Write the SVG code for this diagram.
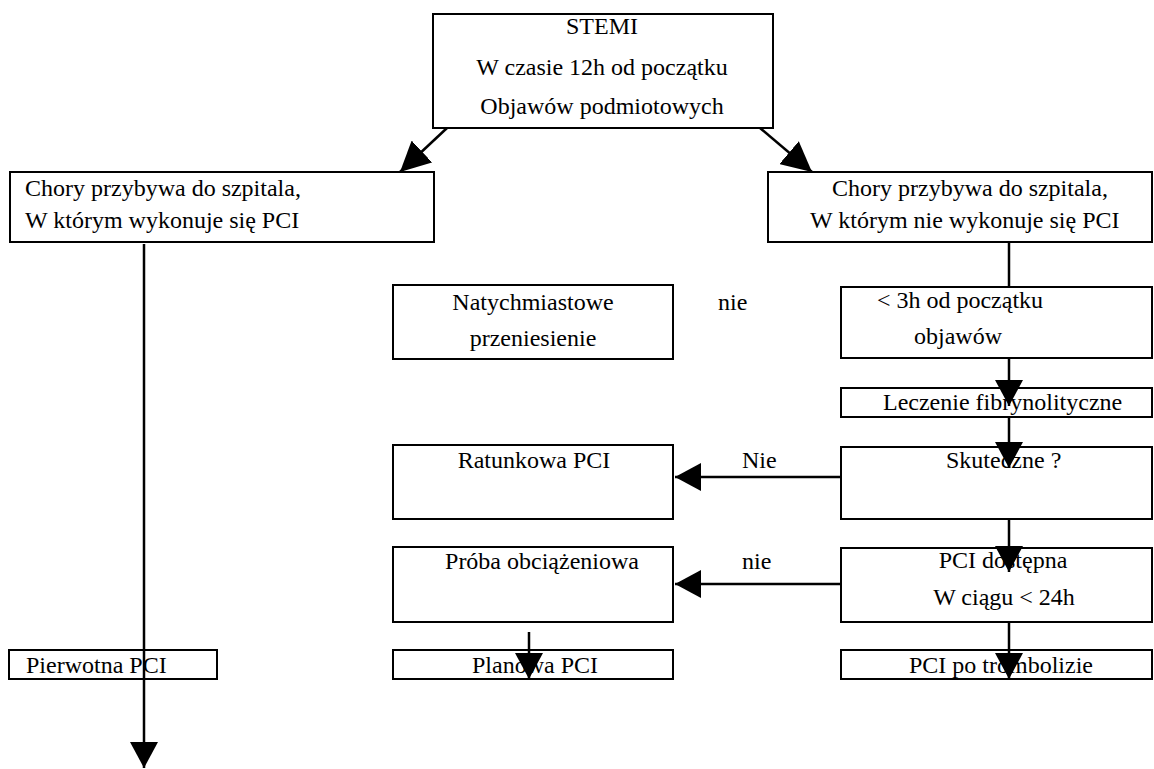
<svg xmlns="http://www.w3.org/2000/svg" width="1154" height="769" viewBox="0 0 1154 769">
<defs>
<style>
.box{fill:none;stroke:#000;stroke-width:2}
.ln{fill:none;stroke:#000;stroke-width:2.5}
text{font-family:"Liberation Serif","Times New Roman",serif;font-size:24px;fill:#000}
.m{text-anchor:middle}
</style>
<marker id="ah" viewBox="0 0 26 28" markerWidth="26" markerHeight="28" refX="26" refY="14" orient="auto" markerUnits="userSpaceOnUse">
<path d="M0,0 L26,14 L0,28 Z" fill="#000"/>
</marker>
<marker id="ahb" viewBox="0 0 30 30" markerWidth="30" markerHeight="30" refX="30" refY="15" orient="auto" markerUnits="userSpaceOnUse">
<path d="M0,0 L30,15 L0,30 Z" fill="#000"/>
</marker>
</defs>
<rect width="1154" height="769" fill="#fff"/>
<g id="connectors">
<line class="ln" x1="447" y1="128" x2="400" y2="172" marker-end="url(#ahb)"/>
<line class="ln" x1="760" y1="128" x2="812" y2="172" marker-end="url(#ahb)"/>
<line class="ln" x1="144" y1="244" x2="144" y2="768" marker-end="url(#ah)"/>
<line class="ln" x1="1009" y1="242" x2="1009" y2="287"/>
<line class="ln" x1="1009" y1="358" x2="1009" y2="406" marker-end="url(#ah)"/>
<line class="ln" x1="1009" y1="417" x2="1009" y2="468" marker-end="url(#ah)"/>
<line class="ln" x1="1009" y1="519" x2="1009" y2="572" marker-end="url(#ah)"/>
<line class="ln" x1="1009" y1="622" x2="1009" y2="679" marker-end="url(#ah)"/>
<line class="ln" x1="529" y1="632" x2="529" y2="679" marker-end="url(#ah)"/>
<line class="ln" x1="841" y1="477" x2="675" y2="477" marker-end="url(#ah)"/>
<line class="ln" x1="841" y1="584" x2="675" y2="584" marker-end="url(#ah)"/>
</g>
<g id="n-stemi">
<rect class="box" x="433" y="14" width="340" height="114"/>
<text class="m" x="602" y="34">STEMI</text>
<text class="m" x="602" y="75">W czasie 12h od początku</text>
<text class="m" x="602" y="114">Objawów podmiotowych</text>
</g>
<g id="n-left">
<rect class="box" x="10" y="172" width="424" height="70"/>
<text x="25" y="196">Chory przybywa do szpitala,</text>
<text x="25" y="228">W którym wykonuje się PCI</text>
</g>
<g id="n-right">
<rect class="box" x="768" y="172" width="384" height="70"/>
<text x="832" y="196">Chory przybywa do szpitala,</text>
<text x="810" y="228">W którym nie wykonuje się PCI</text>
</g>
<g id="n-natych">
<rect class="box" x="393" y="285" width="280" height="74"/>
<text class="m" x="533" y="310">Natychmiastowe</text>
<text class="m" x="533" y="346">przeniesienie</text>
</g>
<g id="l-nie1"><text x="718" y="310">nie</text></g>
<g id="n-3h">
<rect class="box" x="841" y="287" width="311" height="71"/>
<text class="m" x="960" y="308">&lt; 3h od początku</text>
<text class="m" x="958" y="344">objawów</text>
</g>
<g id="n-lecz">
<rect class="box" x="841" y="388" width="311" height="29"/>
<text x="883" y="410">Leczenie fibrynolityczne</text>
</g>
<g id="n-skut">
<rect class="box" x="841" y="447" width="311" height="72"/>
<text x="946" y="468">Skuteczne ?</text>
</g>
<g id="n-ratunk">
<rect class="box" x="393" y="445" width="280" height="74"/>
<text class="m" x="534" y="468">Ratunkowa PCI</text>
</g>
<g id="l-nie2"><text x="742" y="468">Nie</text></g>
<g id="n-proba">
<rect class="box" x="393" y="547" width="280" height="75"/>
<text class="m" x="542" y="569">Próba obciążeniowa</text>
</g>
<g id="l-nie3"><text x="742" y="569">nie</text></g>
<g id="n-pcidost">
<rect class="box" x="841" y="548" width="311" height="74"/>
<text class="m" x="1003" y="568">PCI dostępna</text>
<text class="m" x="1004" y="605">W ciągu &lt; 24h</text>
</g>
<g id="n-pierw">
<rect class="box" x="9" y="650" width="208" height="29"/>
<text x="26" y="673">Pierwotna PCI</text>
</g>
<g id="n-plan">
<rect class="box" x="393" y="650" width="280" height="29"/>
<text class="m" x="535" y="673">Planowa PCI</text>
</g>
<g id="n-tromb">
<rect class="box" x="841" y="650" width="311" height="29"/>
<text class="m" x="1001" y="673">PCI po trombolizie</text>
</g>
</svg>
